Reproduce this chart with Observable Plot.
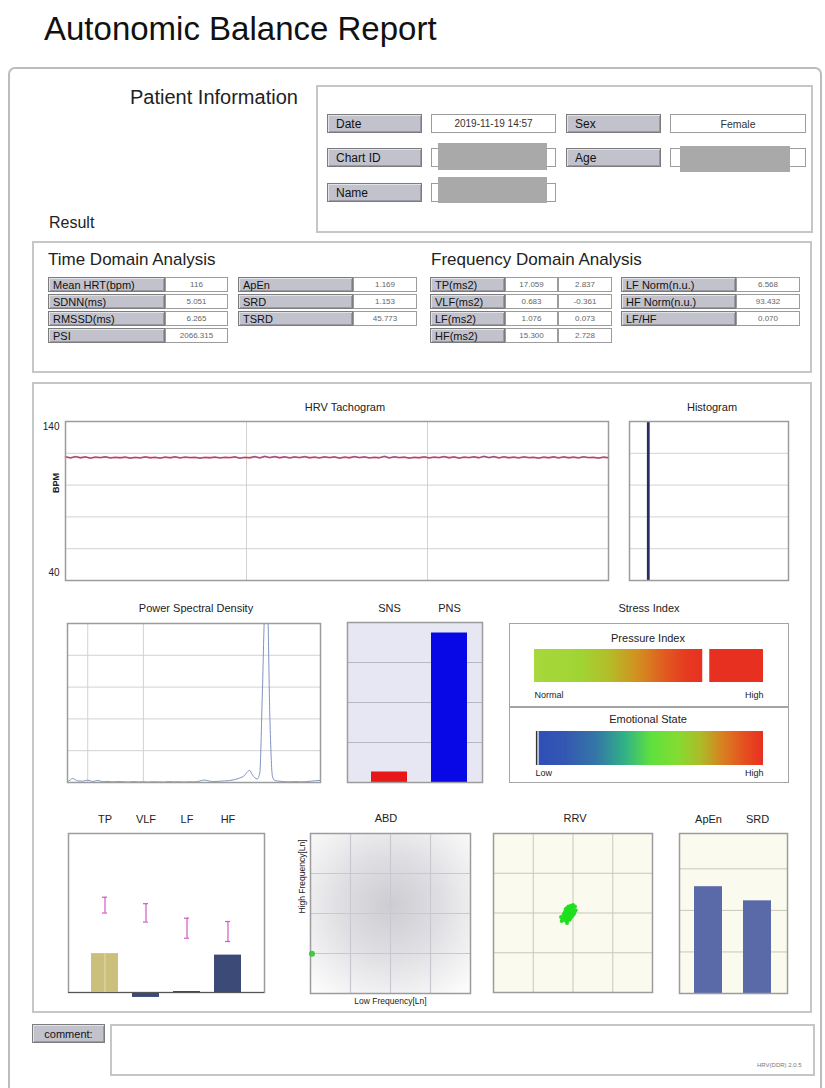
<!DOCTYPE html>
<html><head><meta charset="utf-8">
<script src="https://cdn.jsdelivr.net/npm/d3@7"></script>
<script src="https://cdn.jsdelivr.net/npm/@observablehq/plot@0.6"></script>
<style>
body{margin:0;background:#fff;}
#page{position:relative;width:825px;height:1088px;overflow:hidden;font-family:"Liberation Sans",Arial,sans-serif;color:#1a1a1a;}
.abs{position:absolute;box-sizing:border-box;white-space:nowrap;}
.lbl{background:#c2c2cd;border:1px solid #7c7c7c;box-shadow:inset 1px 1px 0 #e2e2ea,inset -1px -1px 0 #9a9aa4;font-size:11px;padding-left:4px;display:flex;align-items:center;color:#111;}
.plbl{font-size:12px;padding-left:8px;}
.val{background:#fff;border:1px solid #9c9c9c;font-size:8px;color:#666;display:flex;align-items:center;justify-content:center;}
.panel{border:2px solid #c6c6c6;}
.ttl{font-size:11px;color:#222;transform:translate(-50%,-50%);}
.redact{background:#a9a9a9;}
</style></head><body>
<svg width="0" height="0" style="position:absolute">
<defs>
<linearGradient id="pgrad" x1="0" x2="1" y1="0" y2="0">
<stop offset="0%" stop-color="#a8d83c"/><stop offset="28%" stop-color="#a0d434"/><stop offset="45%" stop-color="#b4bc28"/>
<stop offset="62%" stop-color="#d48e20"/><stop offset="78%" stop-color="#e05a20"/><stop offset="90%" stop-color="#e63c20"/><stop offset="100%" stop-color="#e83020"/>
</linearGradient>
<linearGradient id="egrad" x1="0" x2="1" y1="0" y2="0">
<stop offset="0%" stop-color="#2e4fb8"/><stop offset="12%" stop-color="#3458b2"/><stop offset="26%" stop-color="#3478a6"/>
<stop offset="38%" stop-color="#30b088"/><stop offset="50%" stop-color="#5ee040"/><stop offset="62%" stop-color="#84dc30"/>
<stop offset="72%" stop-color="#acbc28"/><stop offset="82%" stop-color="#d88020"/><stop offset="92%" stop-color="#e64e20"/><stop offset="100%" stop-color="#e83020"/>
</linearGradient>
<radialGradient id="abdgrad" cx="50%" cy="45%" r="70%">
<stop offset="0%" stop-color="#cdcdd1"/><stop offset="45%" stop-color="#dfdfe3"/><stop offset="100%" stop-color="#fcfcfc"/>
</radialGradient>
</defs></svg>
<div id="page"></div>
<script>
// ---------------- DATA ----------------
const reportTitle = "Autonomic Balance Report";
const patientDate = "2019-11-19 14:57";
const patientSex = "Female";

const timeLabels = ["Mean HRT(bpm)", "SDNN(ms)", "RMSSD(ms)", "PSI"];
const timeValues = ["116", "5.051", "6.265", "2066.315"];
const nonlinLabels = ["ApEn", "SRD", "TSRD"];
const nonlinValues = ["1.169", "1.153", "45.773"];
const freqLabels = ["TP(ms2)", "VLF(ms2)", "LF(ms2)", "HF(ms2)"];
const freqAbs = ["17.059", "0.683", "1.076", "15.300"];
const freqLn = [2.837, -0.361, 0.073, 2.728];
const normLabels = ["LF Norm(n.u.)", "HF Norm(n.u.)", "LF/HF"];
const normValues = ["6.568", "93.432", "0.070"];

// HRV tachogram (BPM per beat)
const tachoBpm = [
117.8,117.1,117.9,117.2,117.7,117.0,117.6,117.3,117.8,117.1,
117.5,117.2,117.6,117.0,117.4,117.1,117.7,117.2,117.5,117.0,
117.6,117.2,117.8,117.1,117.6,117.3,117.5,117.0,117.4,117.2,
117.6,117.1,117.5,117.3,117.7,117.0,117.4,117.2,117.9,117.1,
118.0,117.3,117.9,117.2,117.8,117.1,117.7,117.3,117.9,117.2,
117.6,117.1,117.8,117.3,117.7,117.0,117.6,117.2,117.9,117.3,
117.7,117.1,117.5,117.2,118.0,117.1,117.8,117.3,117.6,117.0,
117.5,117.2,117.7,117.1,117.6,117.3,117.9,117.2,117.7,117.0,
117.6,117.3,117.8,117.2,118.0,117.3,117.9,117.1,117.8,117.2,
117.6,117.1,117.7,117.3,117.5,117.0,117.6,117.2,117.8,117.1,
117.7,117.2,117.6,117.1,117.8,117.3,117.5,117.0,117.6,117.2];
const tachoMinutes = 3;
const tachoGridY = [60, 80, 100, 120];
const tachoGridX = [1, 2];
const tachoTicks = [140, 40];

// Histogram of RR intervals (ms)
const histLo = [510];
const histHi = [524];
const histCount = [100];
const histGridY = [20, 40, 60, 80];

// Power spectral density (Hz, relative power)
const psdFreq = [0.000,0.005,0.010,0.015,0.020,0.030,0.040,0.050,0.060,0.070,0.080,0.090,0.100,0.110,0.120,0.130,0.140,0.150,0.160,0.170,0.180,0.190,0.200,0.210,0.220,0.230,0.240,0.250,0.260,0.270,0.280,0.290,0.300,0.310,0.320,0.330,0.340,0.350,0.355,0.360,0.365,0.370,0.375,0.380,0.385,0.390,0.395,0.400,0.405,0.410,0.420,0.430,0.440,0.450,0.460,0.470,0.480,0.490,0.500];
const psdPower = [0.5,1.5,2.6,1.8,1.0,0.8,1.5,0.6,1.3,0.5,0.7,0.4,0.6,0.5,0.3,0.6,0.4,0.5,0.3,0.5,0.4,0.3,0.6,0.4,0.5,0.3,0.5,0.4,0.8,1.6,0.9,0.6,0.8,1.0,1.2,1.8,2.8,4.5,6.5,7.6,5.0,3.0,2.2,6.0,55,108,112,40,4,1.2,0.8,0.5,0.4,0.6,0.4,0.5,0.8,1.1,1.4];
const psdGridX = [0.04, 0.15];
const psdGridY = [20, 40, 60, 80];

// SNS / PNS
const ansLabels = ["SNS", "PNS"];
const ansValues = [6.568, 93.432];
const ansGridY = [25, 50, 75];

// Stress index gauges (0-100)
const pressureIndex = 75;
const emotionalState = 0.5;
const pressureEnds = ["Normal", "High"];
const emotionEnds = ["Low", "High"];

// Band powers (ln) with normal ranges
const bandLabels = ["TP", "VLF", "LF", "HF"];
const bandValues = freqLn;
const bandNormLow = [5.80, 5.14, 3.96, 3.72];
const bandNormHigh = [6.95, 6.48, 5.42, 5.18];

// ABD
const abdLF = [0.073];
const abdHF = [2.728];
const abdGridX = [2, 4, 6];
const abdGridY = [2.75, 5.5, 8.25];

// RRV Poincare (RRn, RRn+1 in ms)
const rrX = [505,508,510,512,514,516,518,520,509,511,513,515,517,507,512,514,516,510,519,521,506,515,511,513,508,517,514,512,510,516,518,509,513,515,511,520,507,514,512,516,510,518,513,511,515,509,517,512,514,513,503,523,502,524,506,520,504,522,509,519];
const rrY = [512,522,508,526,511,529,515,524,517,505,530,514,520,519,521,516,525,513,527,518,510,523,518,513,515,531,519,509,524,517,522,520,524,510,527,529,514,527,515,512,518,519,518,512,528,509,525,523,522,520,508,530,514,524,518,532,511,521,526,516];
const rrGrid = [460, 520, 580];

// ApEn / SRD
const entLabels = ["ApEn", "SRD"];
const entValues = [2.57, 2.23];
const entGridY = [1, 2, 3];

// ---------------- LAYOUT HELPERS ----------------
const page = document.getElementById("page");
function el(cls, x, y, w, h, txt, style) {
  const d = document.createElement("div");
  d.className = "abs " + (cls || "");
  d.style.left = x + "px"; d.style.top = y + "px";
  if (w != null) d.style.width = w + "px";
  if (h != null) d.style.height = h + "px";
  if (txt != null) d.textContent = txt;
  if (style) Object.assign(d.style, style);
  page.appendChild(d);
  return d;
}
function put(node, x, y) {
  const w = document.createElement("div");
  w.className = "abs";
  w.style.left = x + "px"; w.style.top = y + "px";
  w.appendChild(node);
  page.appendChild(w);
}
function ttl(cx, cy, txt, style) { return el("ttl", cx, cy, null, null, txt, style); }
const FONT = '"Liberation Sans", Arial, sans-serif';
const pstyle = {fontFamily: FONT, fontSize: "11px", background: "transparent", overflow: "visible", color: "#222"};
const FRAME = "#9c9c9c";
const GRID = "#d2d2d2";

// ---------------- CHROME ----------------
el("", 44, 9, null, null, reportTitle, {fontSize: "33px", color: "#111", lineHeight: "40px"});
el("", 8, 67, 814, 1040, null, {border: "2px solid #bcbcbc", borderRadius: "7px"});
el("", 130, 86, null, null, "Patient Information", {fontSize: "20px", color: "#222"});
el("panel", 316, 85, 497, 148);

const pRows = [114, 148, 183];
el("lbl plbl", 327, pRows[0], 95, 19, "Date");
el("val", 431, pRows[0], 125, 19, patientDate, {fontSize: "10px", color: "#333"});
el("lbl plbl", 566, pRows[0], 95, 19, "Sex");
el("val", 670, pRows[0], 136, 19, patientSex, {fontSize: "10.5px", color: "#333"});
el("lbl plbl", 327, pRows[1], 95, 19, "Chart ID");
el("val", 431, pRows[1], 125, 19, "");
el("redact", 438, 143, 109, 27);
el("lbl plbl", 566, pRows[1], 95, 19, "Age");
el("val", 670, pRows[1], 136, 19, "");
el("redact", 680, 146, 110, 26);
el("lbl plbl", 327, pRows[2], 95, 19, "Name");
el("val", 431, pRows[2], 125, 19, "");
el("redact", 438, 177, 109, 26);

el("", 49, 214, null, null, "Result", {fontSize: "16px", color: "#222"});
el("panel", 32, 241, 780, 132);
el("", 48, 250, null, null, "Time Domain Analysis", {fontSize: "17px", color: "#222"});
el("", 431, 250, null, null, "Frequency Domain Analysis", {fontSize: "17px", color: "#222"});

const rowY = [277, 294, 311, 328];
const RH = 15;
timeLabels.forEach((t, i) => { el("lbl", 48, rowY[i], 117, RH, t); el("val", 165, rowY[i], 63, RH, timeValues[i]); });
nonlinLabels.forEach((t, i) => { el("lbl", 238, rowY[i], 115, RH, t); el("val", 353, rowY[i], 64, RH, nonlinValues[i]); });
freqLabels.forEach((t, i) => {
  el("lbl", 430, rowY[i], 75, RH, t);
  el("val", 505, rowY[i], 53, RH, freqAbs[i]);
  el("val", 558, rowY[i], 54, RH, freqLn[i].toFixed(3));
});
normLabels.forEach((t, i) => { el("lbl", 621, rowY[i], 115, RH, t); el("val", 736, rowY[i], 64, RH, normValues[i]); });

el("panel", 32, 382, 780, 631);

el("lbl", 32, 1024, 73, 19, "comment:", {justifyContent: "center", paddingLeft: "0", fontSize: "11px"});
el("", 110, 1024, 705, 52, null, {border: "2px solid #c6c6c6"});
el("", 757, 1062, null, null, "HRV(DDR) 2.0.5", {fontSize: "6px", color: "#777"});

// ---------------- CHARTS ----------------
// HRV Tachogram
ttl(345, 407, "HRV Tachogram");
const tacho = tachoBpm.map((v, i) => ({t: i * tachoMinutes / (tachoBpm.length - 1), v}));
put(Plot.plot({
  width: 580, height: 163, marginLeft: 35, marginRight: 2, marginTop: 2, marginBottom: 2,
  style: pstyle,
  x: {domain: [0, tachoMinutes], axis: null},
  y: {domain: [40, 140], axis: null},
  marks: [
    Plot.ruleY(tachoGridY, {stroke: GRID}),
    Plot.ruleX(tachoGridX, {stroke: GRID}),
    Plot.line(tacho, {x: "t", y: "v", stroke: "#e0708a", strokeWidth: 1.8}),
    Plot.line(tacho, {x: "t", y: "v", stroke: "#5a4a8a", strokeWidth: 0.8}),
    Plot.text(tachoTicks.slice(0, 1), {y: d => d, text: d => String(d), frameAnchor: "left", textAnchor: "end", dx: -6, dy: 5, fontSize: 10}),
    Plot.text(tachoTicks.slice(1), {y: d => d, text: d => String(d), frameAnchor: "left", textAnchor: "end", dx: -6, dy: -8, fontSize: 10}),
    Plot.text(["BPM"], {text: d => d, frameAnchor: "left", rotate: -90, dx: -9, dy: -8, fontSize: 9, fontWeight: "bold"}),
    Plot.frame({stroke: FRAME, strokeWidth: 1.5})
  ]
}), 30, 419);

// Histogram
ttl(712, 407, "Histogram");
put(Plot.plot({
  width: 161, height: 161, margin: 1, style: pstyle,
  x: {domain: [420, 1220], axis: null},
  y: {domain: [0, 100], axis: null},
  marks: [
    Plot.ruleY(histGridY, {stroke: GRID}),
    Plot.rectY(histCount.map((c, i) => ({lo: histLo[i], hi: histHi[i], c})), {x1: "lo", x2: "hi", y: "c", fill: "#2a2a64"}),
    Plot.frame({stroke: FRAME, strokeWidth: 1.5})
  ]
}), 628, 420);

// PSD
ttl(196, 608, "Power Spectral Density");
put(Plot.plot({
  width: 255, height: 161, margin: 1, style: pstyle,
  x: {domain: [0, 0.5], axis: null},
  y: {domain: [0, 100], axis: null},
  marks: [
    Plot.ruleY(psdGridY, {stroke: GRID}),
    Plot.ruleX(psdGridX, {stroke: GRID}),
    Plot.line(psdFreq.map((f, i) => ({f, p: psdPower[i]})), {x: "f", y: "p", stroke: "#8094c0", strokeWidth: 1, clip: true, curve: "monotone-x"}),
    Plot.frame({stroke: FRAME, strokeWidth: 1.5})
  ]
}), 66, 622);

// SNS / PNS
put(Plot.plot({
  width: 137, height: 185, marginTop: 24, marginBottom: 1, marginLeft: 1, marginRight: 1, style: pstyle,
  x: {domain: ansLabels, axis: "top", tickSize: 0, tickPadding: 11, label: null, paddingInner: 0.4, paddingOuter: 0.32, align: 0.62},
  y: {domain: [0, 100], axis: null},
  marks: [
    Plot.frame({fill: "#e7e7f3"}),
    Plot.ruleY(ansGridY, {stroke: "#b8b8c4"}),
    Plot.barY(ansLabels.map((k, i) => ({k, v: ansValues[i]})), {x: "k", y: "v", fill: d => d.k === "SNS" ? "#e81818" : "#0808e6"}),
    Plot.frame({stroke: FRAME, strokeWidth: 1.5})
  ]
}), 346, 598);

// Stress Index
ttl(649, 608, "Stress Index");
el("", 509, 623, 280, 160, null, {border: "1.5px solid #a4a4a4"});
el("", 509, 706, 280, 1.5, null, {background: "#a4a4a4"});
ttl(648, 638, "Pressure Index");
ttl(648, 719, "Emotional State");
put(Plot.plot({
  width: 280, height: 84, marginLeft: 25, marginRight: 26, marginTop: 26, marginBottom: 25, style: pstyle,
  x: {domain: [0, 100], axis: null},
  y: {domain: [0, 1], axis: null},
  marks: [
    Plot.rect([pressureIndex], {x1: 0, x2: d => d, y1: 0, y2: 1, insetRight: 3.5, fill: "url(#pgrad)"}),
    Plot.rect([pressureIndex], {x1: d => d, x2: 100, y1: 0, y2: 1, insetLeft: 3.5, fill: "#e83020"}),
    Plot.text(pressureEnds.slice(0, 1), {x: 0, text: d => d, frameAnchor: "bottom", textAnchor: "start", dy: 15, fontSize: 9}),
    Plot.text(pressureEnds.slice(1), {x: 100, text: d => d, frameAnchor: "bottom", textAnchor: "end", dy: 15, fontSize: 9})
  ]
}), 509, 623);
put(Plot.plot({
  width: 280, height: 76, marginLeft: 26, marginRight: 26, marginTop: 24, marginBottom: 18, style: pstyle,
  x: {domain: [0, 100], axis: null},
  y: {domain: [0, 1], axis: null},
  marks: [
    Plot.rect([emotionalState], {x1: d => d, x2: 100, y1: 0, y2: 1, insetLeft: 2.5, fill: "url(#egrad)"}),
    Plot.ruleX([emotionalState], {stroke: "#333", strokeWidth: 1.5}),
    Plot.text(emotionEnds.slice(0, 1), {x: 0, text: d => d, frameAnchor: "bottom", textAnchor: "start", dy: 10, fontSize: 9}),
    Plot.text(emotionEnds.slice(1), {x: 100, text: d => d, frameAnchor: "bottom", textAnchor: "end", dy: 10, fontSize: 9})
  ]
}), 509, 707);

// Band powers
const bands = bandLabels.map((k, i) => ({k, v: bandValues[i], lo: bandNormLow[i], hi: bandNormHigh[i]}));
put(Plot.plot({
  width: 198, height: 189, marginTop: 24, marginBottom: 6, marginLeft: 1, marginRight: 1, style: pstyle,
  x: {domain: bandLabels, axis: "top", tickSize: 0, tickPadding: 11, label: null, paddingInner: 0.333, paddingOuter: 0.5},
  y: {domain: [0, 11.6], axis: null},
  marks: [
    Plot.frame({stroke: FRAME, strokeWidth: 1.5}),
    Plot.barY(bands, {x: "k", y: "v", fill: d => d.k === "TP" ? "#cbbf7c" : "#3c4a78"}),
    Plot.ruleX(bands.filter(d => d.k === "TP"), {x: "k", y1: 0, y2: "v", stroke: "#e2dcae", strokeWidth: 1}),
    Plot.ruleY([0], {stroke: "#555", strokeWidth: 1}),
    Plot.ruleX(bands, {x: "k", y1: "lo", y2: "hi", stroke: "#d458c8", strokeWidth: 1.2}),
    Plot.tickY(bands, {x: "k", y: "lo", stroke: "#d458c8", strokeWidth: 1.2, insetLeft: 11, insetRight: 11}),
    Plot.tickY(bands, {x: "k", y: "hi", stroke: "#d458c8", strokeWidth: 1.2, insetLeft: 11, insetRight: 11})
  ]
}), 67, 809);

// ABD
ttl(386, 818, "ABD");
put(Plot.plot({
  width: 176, height: 178, marginLeft: 14, marginRight: 2, marginTop: 2, marginBottom: 16, style: pstyle,
  x: {domain: [0, 8], axis: null},
  y: {domain: [0, 11], axis: null},
  marks: [
    Plot.frame({fill: "url(#abdgrad)"}),
    Plot.ruleX(abdGridX, {stroke: "#c8c8d0", strokeWidth: 1.2}),
    Plot.ruleY(abdGridY, {stroke: "#c8c8d0", strokeWidth: 1.2}),
    Plot.frame({stroke: FRAME, strokeWidth: 1.5}),
    Plot.dot(abdLF.map((v, i) => ({lf: v, hf: abdHF[i]})), {x: "lf", y: "hf", r: 3, fill: "#3ccc3c"}),
    Plot.text(["High Frequency[Ln]"], {text: d => d, frameAnchor: "left", rotate: -90, dx: -8, fontSize: 8.5}),
    Plot.text(["Low Frequency[Ln]"], {text: d => d, frameAnchor: "bottom", dy: 10, fontSize: 8.5})
  ]
}), 296, 831);

// RRV
ttl(575, 818, "RRV");
put(Plot.plot({
  width: 161, height: 161, margin: 1, style: pstyle,
  x: {domain: [400, 640], axis: null},
  y: {domain: [400, 640], axis: null},
  marks: [
    Plot.frame({fill: "#fafaee"}),
    Plot.ruleX(rrGrid, {stroke: "#c8c8b8"}),
    Plot.ruleY(rrGrid, {stroke: "#c8c8b8"}),
    Plot.dot(rrX.map((x, i) => ({x, y: rrY[i]})), {x: "x", y: "y", r: 2, fill: "#1ee01e"}),
    Plot.frame({stroke: FRAME, strokeWidth: 1.5})
  ]
}), 492, 832);

// ApEn / SRD
put(Plot.plot({
  width: 110, height: 185, marginTop: 24, marginBottom: 1, marginLeft: 1, marginRight: 1, style: pstyle,
  x: {domain: entLabels, axis: "top", tickSize: 0, tickPadding: 11, label: null, paddingInner: 0.42, paddingOuter: 0.31},
  y: {domain: [0, 3.85], axis: null},
  marks: [
    Plot.frame({fill: "#fafaee"}),
    Plot.ruleY(entGridY, {stroke: "#c8c8b8"}),
    Plot.barY(entLabels.map((k, i) => ({k, v: entValues[i]})), {x: "k", y: "v", fill: "#5a6aa8"}),
    Plot.frame({stroke: FRAME, strokeWidth: 1.5})
  ]
}), 678, 809);
</script>
</body></html>
